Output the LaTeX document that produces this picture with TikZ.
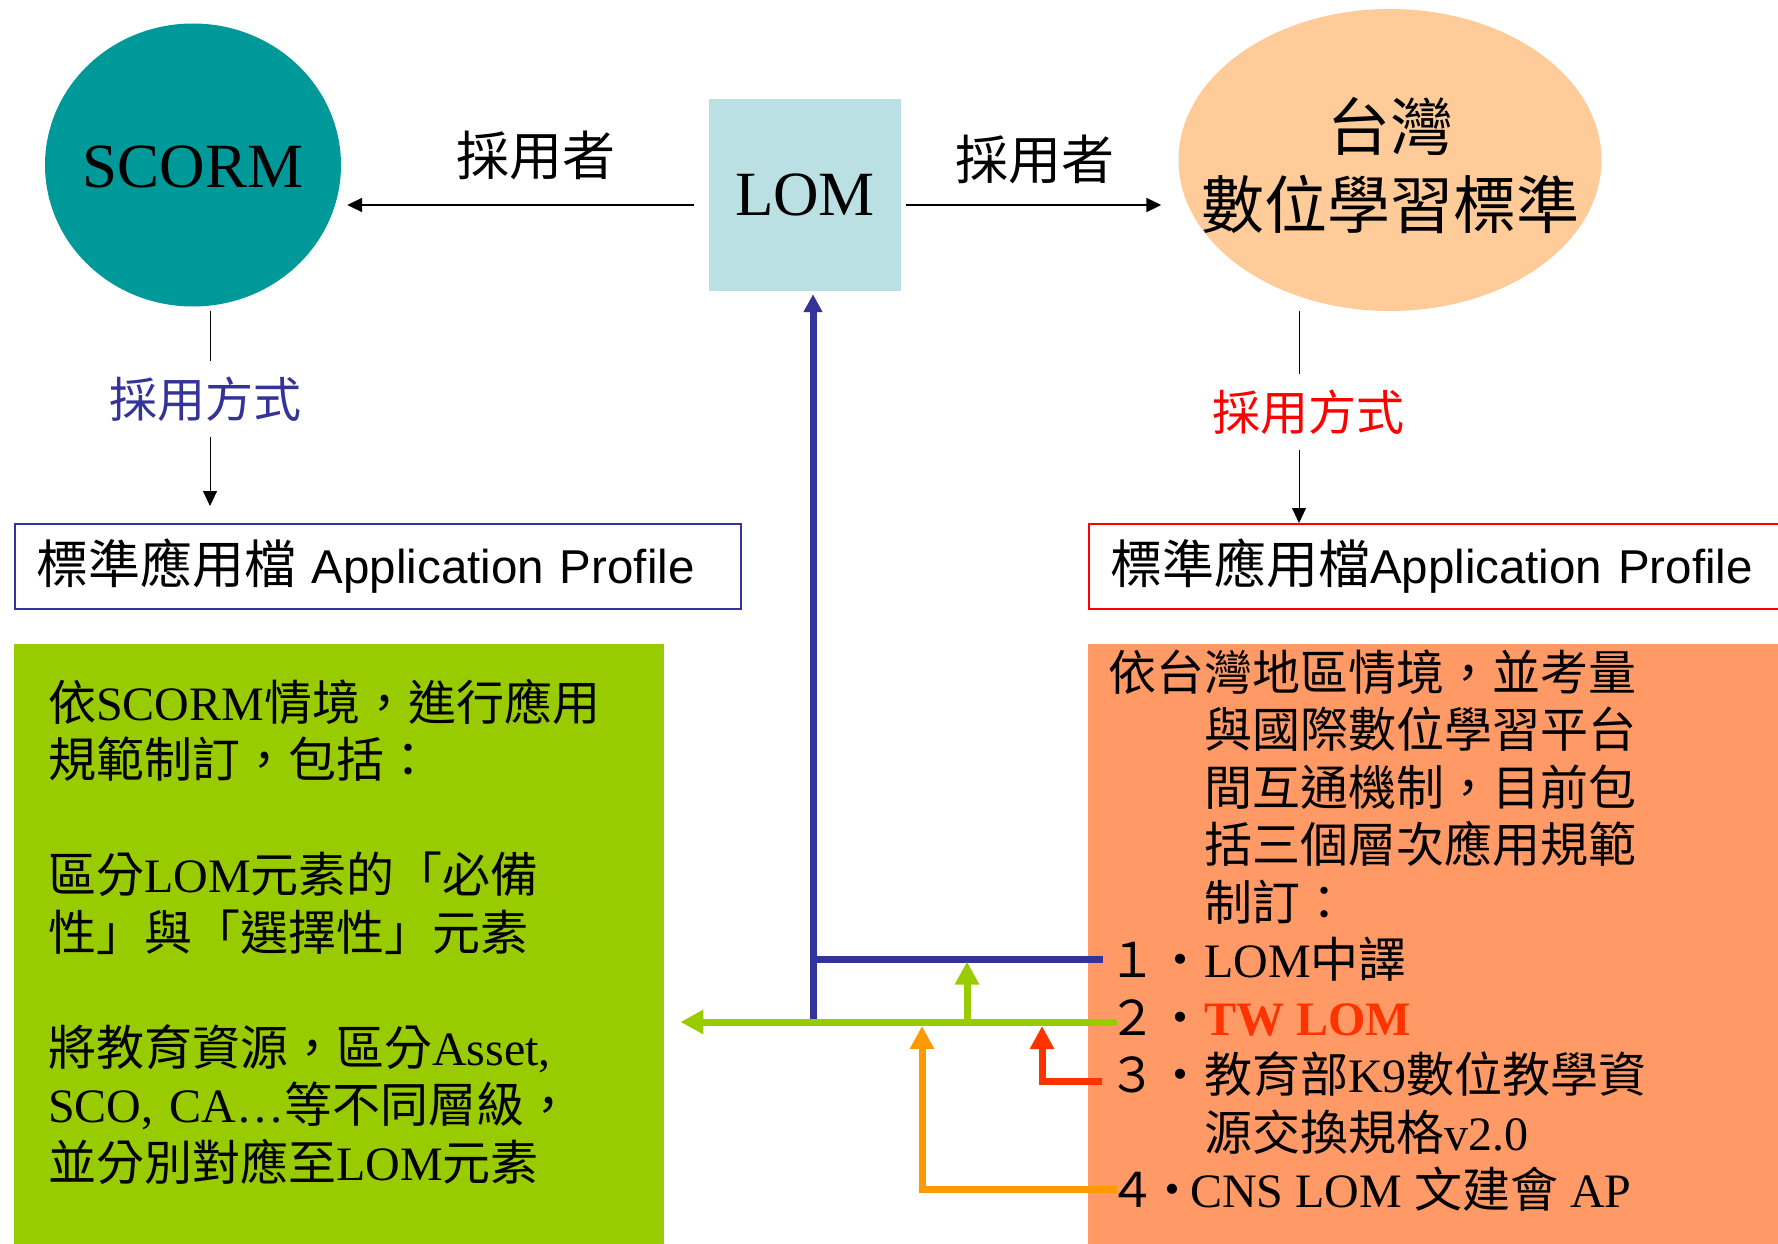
\documentclass[tikz,border=0pt]{standalone}
\usepackage{fontspec}
\setmainfont{Liberation Serif}
\newfontfamily\zhfont{Noto Sans CJK TC}
\newfontfamily\arialfont{Liberation Sans}
\newcommand{\zh}[1]{{\zhfont #1}}
\usepackage{tikz}
\usetikzlibrary{positioning, arrows.meta, shapes.geometric}
\definecolor{scormteal}{HTML}{009999}
\definecolor{lomcyan}{HTML}{BBE0E3}
\definecolor{twpeach}{HTML}{FFCC99}
\definecolor{navyline}{HTML}{333399}
\definecolor{limegreen}{HTML}{99CC00}
\definecolor{salmonbox}{HTML}{FF9966}
\definecolor{amberline}{HTML}{FF9900}
\definecolor{vermilion}{HTML}{FF3300}
\definecolor{purered}{HTML}{FF0000}
\tikzset{
  stdellipse/.style={
    ellipse, draw=none, inner sep=0pt
  },
  stdtitle/.style={align=center, inner sep=0pt},
  adoptarrow/.style={-{Triangle[length=15pt, width=14pt]}, line width=2pt, draw=black},
  modeline/.style={line width=1pt, draw=black},
  modearrow/.style={-{Triangle[length=15pt, width=14pt]}, line width=1pt, draw=black},
  apbox/.style={
    draw, line width=2pt, minimum height=85pt, inner xsep=21pt, inner ysep=0pt,
    text width=684pt, align=left, anchor=north west,
    font=\fontsize{47.5}{56}\selectfont
  },
  bodytext/.style={font=\fontsize{48}{57.5}\selectfont, inner sep=0pt, anchor=base west},
  itemtext/.style={bodytext, text height=42pt, text depth=6pt},
  wire/.style={line width=7pt},
  wirearrow/.style={wire, -{Triangle[length=23pt, width=23pt]}}
}

\begin{document}
\begin{tikzpicture}[x=1pt, y=-1pt]
  \useasboundingbox (0,0) rectangle (1778,1244);

  % standards and the LOM core
  \node[stdellipse, fill=scormteal, minimum width=296pt, minimum height=283pt] (scorm) at (193,165) {};
  \node[stdtitle, font=\fontsize{63}{70}\selectfont] (scormTitle) at ([yshift=-2pt]scorm.center) {SCORM};
  \node[fill=lomcyan, minimum size=192pt, inner sep=0pt,
        font=\fontsize{63}{70}\selectfont] (lom) at (805,195) {LOM};
  \node[stdellipse, fill=twpeach, minimum width=423pt, minimum height=302pt] (tw) at (1390,160) {};
  \node[stdtitle, font=\fontsize{63}{78}\selectfont] (twTitle) at ([yshift=-6pt]tw.center)
    {\zh{台灣}\\\zh{數位學習標準}};

  \node[font=\fontsize{53}{60}\selectfont] (adoptL) at (536,155) {\zh{採用者}};
  \node[font=\fontsize{53}{60}\selectfont] (adoptR) at (1035,159) {\zh{採用者}};

  \draw[adoptarrow, shorten <=15pt, shorten >=6pt] ([yshift=-10pt]lom.west) -- ([yshift=-10pt]lom.west -| scorm.east);
  \draw[adoptarrow, shorten <=5pt, shorten >=17pt] ([yshift=-10pt]lom.east) -- ([yshift=-10pt]lom.east -| tw.west);

  % application profiles
  \node[font=\fontsize{48}{56}\selectfont, text=navyline, inner sep=15pt] (modeL) at (205,399) {\zh{採用方式}};
  \node[font=\fontsize{48}{56}\selectfont, text=purered, inner sep=15pt] (modeR) at (1308,412) {\zh{採用方式}};

  \node[apbox, draw=navyline] (apL) at (14,523)
    {{\fontsize{52}{60}\selectfont\zh{標準應用檔}} {\arialfont Application Profile}};
  \node[apbox, draw=purered] (apR) at (1088,523)
    {{\fontsize{52}{60}\selectfont\zh{標準應用檔}}{\arialfont Application Profile}};

  \coordinate (lx) at (210,0);
  \coordinate (rx) at (1299,0);
  \draw[modeline, shorten <=4pt] (scorm.south -| lx) -- (modeL.north -| lx);
  \draw[modearrow, shorten >=17pt] (modeL.south -| lx) -- (apL.north -| lx);
  \draw[modeline] (tw.south -| rx) -- (modeR.north -| rx);
  \draw[modearrow] (modeR.south -| rx) -- (apR.north -| rx);

  % detail boxes
  \node[fill=limegreen, minimum width=650pt, minimum height=620pt, inner sep=0pt,
        anchor=north west] (spec) at (14,644) {};
  \node[fill=salmonbox, minimum width=700pt, minimum height=620pt, inner sep=0pt,
        anchor=north west] (twspec) at (1088,644) {};

  \node[bodytext, text width=600pt, align=left] (specText) at (48,720)
    {\zh{依}SCORM\zh{情境，進行應用}\\
     \zh{規範制訂，包括：}\\[57.5pt]
     \zh{區分}LOM\zh{元素的「必備}\\
     \zh{性」與「選擇性」元素}\\[57.5pt]
     \zh{將教育資源，區分}Asset,\\
     SCO, CA…\zh{等不同層級，}\\
     \zh{並分別對應至}LOM\zh{元素}};

  \node[bodytext, text width=660pt, align=left] (twIntro) at (1108,690)
    {\zh{依台灣地區情境，並考量}\\
     \hspace*{2em}\zh{與國際數位學習平台}\\
     \hspace*{2em}\zh{間互通機制，目前包}\\
     \hspace*{2em}\zh{括三個層次應用規範}\\
     \hspace*{2em}\zh{制訂：}};

  \node[itemtext] (item1) at (1108,977.5) {\zh{１・}LOM\zh{中譯}};
  \node[itemtext] (item2) at (1108,1035) {\zh{２・}{\bfseries\color{vermilion}TW LOM}};
  \node[itemtext] (item3) at (1108,1092.5) {\zh{３・教育部}K9\zh{數位教學資}};
  \node[itemtext] (item3b) at (1204,1150) {\zh{源交換規格}v2.0};
  \node[itemtext] (item4) at (1108,1207.5) {\zh{４}\kern-8pt\zh{・}\kern-6pt CNS LOM \zh{文建會} AP};

  % level connectors
  \coordinate (jBlue) at (813,1022);
  \coordinate (jUp) at (967,1022);
  \coordinate (jRed) at (1042,1026);
  \coordinate (jAmber) at (922,1026);

  \draw[wire, draw=navyline, -{Triangle[length=18pt, width=18pt]}, shorten >=3pt] (jBlue) -- (jBlue |- lom.south);
  \draw[wire, draw=navyline, shorten <=5pt] (item1.west) -- (item1.west -| jBlue);
  \draw[wirearrow, draw=vermilion, shorten <=6pt] ([yshift=-7pt]item3.west) -| (jRed);
  \draw[wirearrow, draw=amberline, shorten <=-9pt] (item4.west) -| (jAmber);
  \draw[wirearrow, draw=limegreen, shorten <=-9pt, shorten >=16pt] ([yshift=-5pt]item2.west) -- ([yshift=-5pt]item2.west -| spec.east);
  \draw[wirearrow, draw=limegreen, shorten >=2pt] (jUp) -- (jUp |- item1.west);
\end{tikzpicture}
\end{document}
